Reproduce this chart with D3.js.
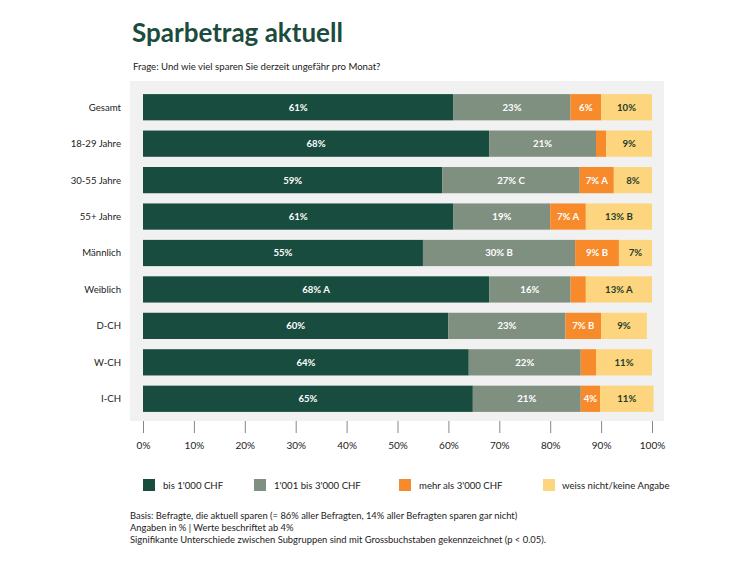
<!DOCTYPE html>
<html><head><meta charset="utf-8">
<script src="https://cdn.jsdelivr.net/npm/d3@7/dist/d3.min.js"></script>
<style>body{margin:0;background:#fff;} svg{display:block;}</style>
</head><body>
<svg id="c" width="750" height="562"></svg>
<script>
const categories = ["Gesamt","18-29 Jahre","30-55 Jahre","55+ Jahre","Männlich","Weiblich","D-CH","W-CH","I-CH"];
const seriesNames = ["bis 1'000 CHF","1'001 bis 3'000 CHF","mehr als 3'000 CHF","weiss nicht/keine Angabe"];
const bis1000   = [61, 68, 58.8, 61, 55, 68, 60, 64, 64.8];
const bis3000   = [23, 21, 27, 19, 29.9, 16, 23, 22, 21.2];
const mehr3000  = [6, 2, 6.7, 7, 8.6, 3, 7, 3, 3.8];
const weissNicht= [10, 9, 7.5, 13, 6.5, 13, 9, 11, 10.5];
const sigBis1000  = ["","","","","","A","","",""];
const sigBis3000  = ["","","C","","B","","","",""];
const sigMehr3000 = ["","","A","A","B","","B","",""];
const sigWeiss    = ["","","","B","","A","","",""];
const xTicks = [0,10,20,30,40,50,60,70,80,90,100];
const colors = ["#174c3f","#7f9081","#f78a2b","#fdd57f"];
const textColors = ["#ffffff","#ffffff","#ffffff","#1f3d2a"];
const title = "Sparbetrag aktuell";
const question = "Frage: Und wie viel sparen Sie derzeit ungefähr pro Monat?";
const notes = ["Basis: Befragte, die aktuell sparen (= 86% aller Befragten, 14% aller Befragten sparen gar nicht)",
  "Angaben in % | Werte beschriftet ab 4%",
  "Signifikante Unterschiede zwischen Subgruppen sind mit Grossbuchstaben gekennzeichnet (p < 0.05)."];

const series = [bis1000, bis3000, mehr3000, weissNicht];
const sigs = [sigBis1000, sigBis3000, sigMehr3000, sigWeiss];
const font = "Lato, 'Open Sans', sans-serif";
const svg = d3.select("#c").style("font-family", font);

svg.append("text").attr("x",132).attr("y",42).attr("font-size",26).attr("font-weight",700)
  .attr("fill","#1b4c3e").text(title);
svg.append("text").attr("x",133).attr("y",70).attr("font-size",9.6).attr("fill","#222").text(question);

// panel
svg.append("rect").attr("x",130).attr("y",81).attr("width",534).attr("height",340).attr("fill","#f1f1f1");

const x = d3.scaleLinear().domain([0,100]).range([143,652]);
const y = d3.scaleBand().domain(categories).range([89,417]).paddingInner(0.28).paddingOuter(0.14);

const rows = categories.map((c,i)=>{
  let acc = 0;
  return series.map((s,k)=>{ const v=s[i]; const seg={cat:c,k,x0:acc,x1:acc+v,v,sig:sigs[k][i]}; acc+=v; return seg; });
}).flat();

const g = svg.append("g");
g.selectAll("rect.bar").data(rows).join("rect").attr("class","bar")
  .attr("x",d=>x(d.x0)).attr("width",d=>x(d.x1)-x(d.x0))
  .attr("y",d=>y(d.cat)).attr("height",y.bandwidth())
  .attr("fill",d=>colors[d.k]);
g.selectAll("text.lbl").data(rows.filter(d=>Math.round(d.v)>=4)).join("text").attr("class","lbl")
  .attr("x",d=>(x(d.x0)+x(d.x1))/2).attr("y",d=>y(d.cat)+y.bandwidth()/2).attr("dy","0.36em")
  .attr("text-anchor","middle").attr("font-size",9.6).attr("font-weight",700)
  .attr("fill",d=>textColors[d.k])
  .text(d=>Math.round(d.v)+"%"+(d.sig?" "+d.sig:""));

// category labels
svg.append("g").selectAll("text").data(categories).join("text")
  .attr("x",121).attr("y",d=>y(d)+y.bandwidth()/2).attr("dy","0.36em")
  .attr("text-anchor","end").attr("font-size",9.6).attr("fill","#222").text(d=>d);

// x axis
const ax = svg.append("g").attr("transform","translate(0,421)")
  .call(d3.axisBottom(x).tickValues(xTicks).tickFormat(d=>d+"%").tickSize(12).tickPadding(9));
ax.select(".domain").remove();
ax.selectAll(".tick line").attr("stroke","#888");
ax.selectAll(".tick text").attr("font-size",10).attr("fill","#222").attr("font-family",font);

// legend
const legX = [143,254,399,543];
const legTx = [20,20,20,19];
const leg = svg.append("g").selectAll("g").data(seriesNames).join("g")
  .attr("transform",(d,i)=>`translate(${legX[i]},479)`);
leg.append("rect").attr("width",12).attr("height",12).attr("fill",(d,i)=>colors[i]);
leg.append("text").attr("x",(d,i)=>legTx[i]).attr("y",10).attr("font-size",9.6).attr("fill","#222").text(d=>d);

svg.append("g").selectAll("text").data(notes).join("text")
  .attr("x",130).attr("y",(d,i)=>519+i*12.2).attr("font-size",9.4).attr("fill","#222").text(d=>d);
</script>
</body></html>
